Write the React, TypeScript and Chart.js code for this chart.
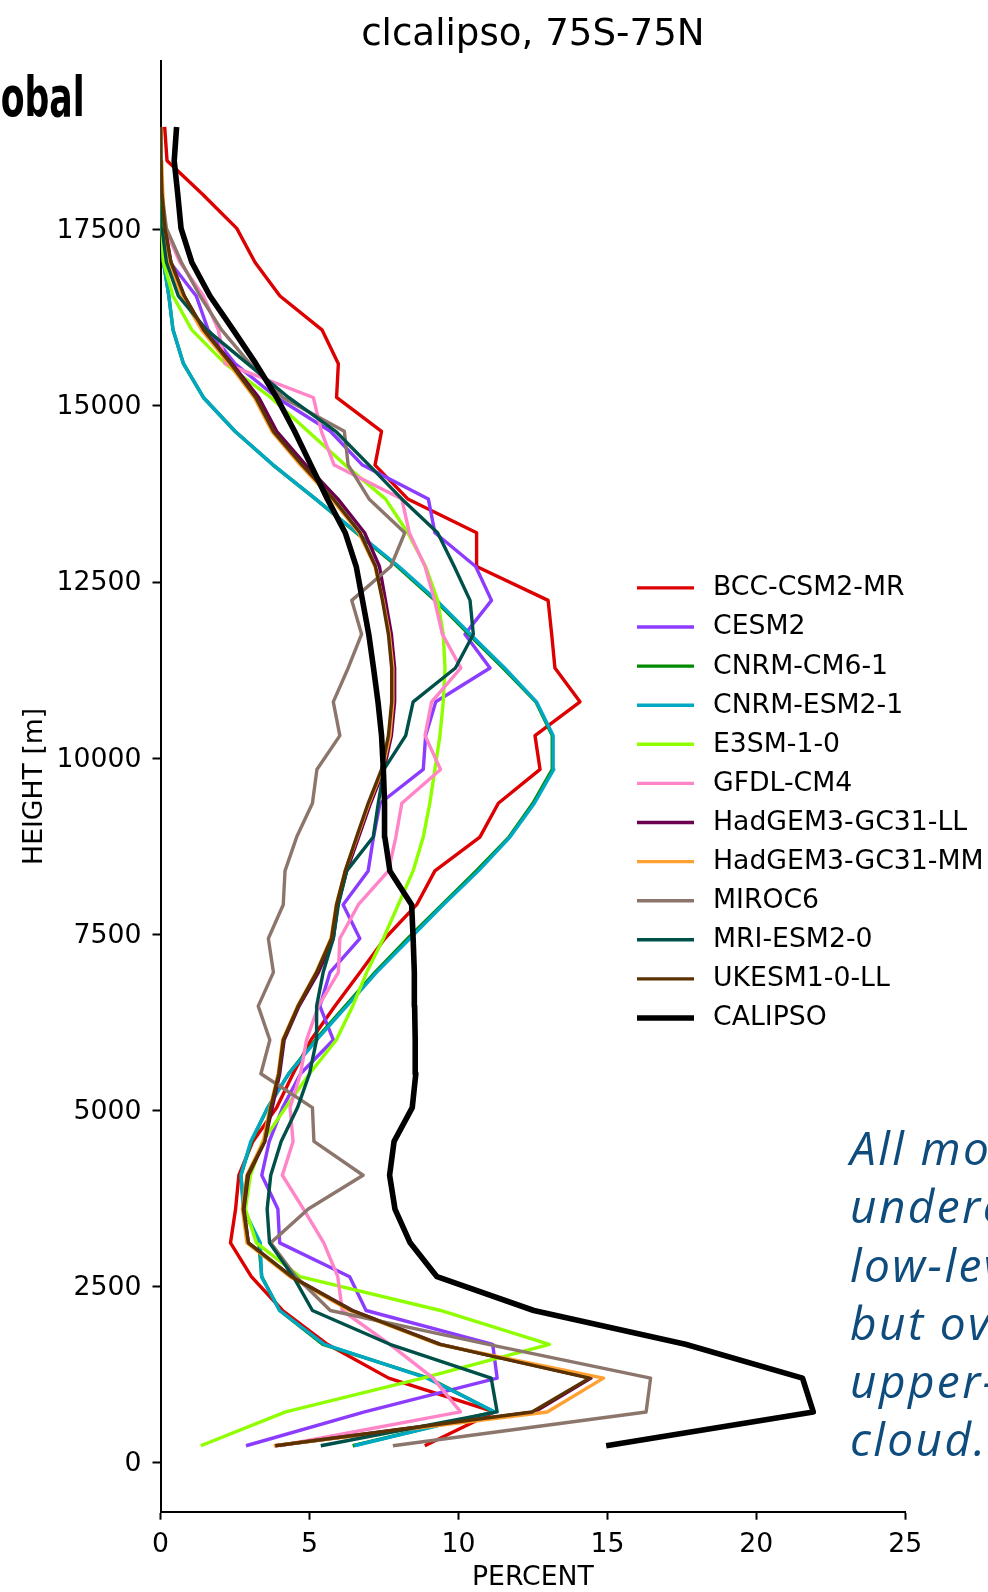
import React, { useEffect, useRef } from "react";
import { Chart, registerables } from "chart.js";

Chart.register(...registerables);

// ---------- data ----------
const heights = [
  240, 720, 1200, 1680, 2160, 2640, 3120, 3600, 4080, 4560, 5040, 5520, 6000, 6480, 6960, 7440, 7920, 8400,
  8880, 9360, 9840, 10320, 10800, 11280, 11760, 12240, 12720, 13200, 13680, 14160, 14640, 15120, 15600, 16080,
  16560, 17040, 17520, 18000, 18480, 18960,
];

const bccCsm2Mr = [
  8.87, 11.2, 7.66, 5.6, 4.1, 3.05, 2.35, 2.52, 2.63, 3.1, 3.9, 4.45, 5.05, 5.85, 6.7, 7.53, 8.6, 9.21, 10.72,
  11.34, 12.74, 12.57, 14.08, 13.24, 13.13, 13.01, 10.61, 10.61, 8.3, 7.2, 7.42, 5.91, 5.97, 5.42, 4.01, 3.17,
  2.56, 1.42, 0.22, 0.14,
];
const cesm2 = [
  2.87, 6.85, 11.3, 11.15, 6.9, 6.35, 4.0, 3.94, 3.4, 3.65, 4.1, 4.7, 5.8, 5.35, 5.69, 6.69, 6.13, 6.97, 7.15,
  7.37, 8.82, 8.9, 9.24, 11.06, 10.22, 11.11, 10.58, 9.21, 8.99, 6.78, 5.7, 3.9, 2.5, 1.6, 1.2, 0.32, 0.1, 0.05,
  0.02, 0.01,
];
const cnrmCm61 = [
  6.45, 11.2, 9.0, 5.45, 4.0, 3.4, 3.3, 2.8, 2.7, 3.05, 3.6, 4.3, 5.2, 6.2, 7.2, 8.3, 9.45, 10.6, 11.7, 12.5,
  13.15, 13.15, 12.6, 11.5, 10.35, 9.22, 7.95, 6.57, 5.2, 3.78, 2.5, 1.44, 0.77, 0.42, 0.28, 0.1, 0.05, 0.02,
  0.01, 0.0,
];
const cnrmEsm21 = [
  6.5, 11.23, 8.95, 5.5, 4.0, 3.39, 3.35, 2.78, 2.7, 3.03, 3.6, 4.3, 5.24, 6.25, 7.25, 8.37, 9.49, 10.67, 11.73,
  12.55, 13.2, 13.18, 12.62, 11.55, 10.4, 9.27, 8.0, 6.6, 5.2, 3.79, 2.5, 1.44, 0.77, 0.42, 0.28, 0.1, 0.05,
  0.02, 0.01, 0.0,
];
const e3sm10 = [
  1.35, 4.2, 8.8, 13.05, 9.4, 4.68, 3.22, 2.85, 3.02, 3.43, 4.2, 5.0, 5.9, 6.45, 6.92, 7.48, 7.98, 8.48, 8.82,
  9.04, 9.21, 9.38, 9.49, 9.55, 9.49, 9.3, 8.9, 8.3, 7.55, 6.2, 4.95, 3.7, 2.17, 1.05, 0.42, 0.1, 0.04, 0.02,
  0.01, 0.0,
];
const gfdlCm4 = [
  4.0, 10.07, 9.15, 7.7, 6.1, 5.95, 5.48, 4.8, 4.09, 4.45, 4.35, 4.7, 4.9, 5.3, 5.97, 6.02, 6.64, 7.65, 7.9, 8.1,
  9.4, 8.88, 9.1, 10.08, 9.46, 9.2, 8.88, 8.35, 8.1, 5.83, 5.4, 5.13, 2.17, 1.94, 1.44, 0.65, 0.15, 0.05, 0.02,
  0.0,
];
const hadgem3Ll = [
  3.85, 12.55, 14.45, 9.4, 6.45, 4.4, 2.95, 2.8, 2.95, 3.5, 3.75, 4.0, 4.15, 4.65, 5.3, 5.8, 5.95, 6.25, 6.65,
  7.05, 7.5, 7.75, 7.86, 7.86, 7.75, 7.55, 7.35, 6.85, 5.95, 4.88, 3.9, 3.3, 2.4, 1.45, 0.8, 0.35, 0.15, 0.05,
  0.01, 0.0,
];
const hadgem3Mm = [
  3.8, 12.98, 14.87, 9.33, 6.35, 4.35, 2.9, 2.75, 2.9, 3.45, 3.68, 3.95, 4.1, 4.6, 5.22, 5.72, 5.9, 6.2, 6.6, 7.0,
  7.45, 7.7, 7.8, 7.8, 7.68, 7.47, 7.2, 6.66, 5.75, 4.7, 3.74, 3.15, 2.3, 1.38, 0.72, 0.3, 0.15, 0.08, 0.04,
  0.02,
];
const miroc6 = [
  7.8, 16.3, 16.45, 11.0, 5.7, 4.55, 3.7, 4.96, 6.8, 5.15, 5.1, 3.37, 3.67, 3.28, 3.79, 3.62, 4.12, 4.18, 4.57,
  5.1, 5.25, 6.02, 5.8, 6.3, 6.75, 6.42, 7.73, 8.2, 7.0, 6.3, 6.17, 4.1, 3.0, 2.05, 1.33, 0.7, 0.2, 0.05, 0.02,
  0.0,
];
const mriEsm20 = [
  5.38, 11.3, 11.1, 7.7, 5.1, 4.46, 3.66, 3.58, 3.7, 4.05, 4.6, 5.0, 5.24, 5.24, 5.46, 5.8, 5.97, 6.25, 7.14,
  7.31, 7.5, 8.23, 8.48, 9.9, 10.5, 10.39, 9.86, 9.3, 8.1, 7.0, 5.88, 4.3, 2.92, 1.55, 0.6, 0.2, 0.05, 0.02, 0.01,
  0.0,
];
const ukesm10Ll = [
  3.85, 12.47, 14.4, 9.38, 6.42, 4.4, 2.95, 2.78, 2.92, 3.5, 3.7, 3.97, 4.12, 4.62, 5.24, 5.74, 5.91, 6.2, 6.58,
  6.97, 7.42, 7.65, 7.76, 7.76, 7.65, 7.45, 7.22, 6.7, 5.8, 4.76, 3.79, 3.2, 2.36, 1.45, 0.8, 0.35, 0.15, 0.05,
  0.01, 0.0,
];
const calipso = [
  14.96, 21.91, 21.55, 17.62, 12.53, 9.28, 8.38, 7.87, 7.69, 7.84, 8.45, 8.57, 8.55, 8.53, 8.52, 8.48, 8.43, 7.7,
  7.53, 7.52, 7.48, 7.42, 7.3, 7.15, 6.99, 6.78, 6.57, 6.2, 5.6, 5.05, 4.5, 3.9, 3.2, 2.44, 1.66, 1.05, 0.69,
  0.58, 0.46, 0.54,
];

const seriesNames = [
  "BCC-CSM2-MR",
  "CESM2",
  "CNRM-CM6-1",
  "CNRM-ESM2-1",
  "E3SM-1-0",
  "GFDL-CM4",
  "HadGEM3-GC31-LL",
  "HadGEM3-GC31-MM",
  "MIROC6",
  "MRI-ESM2-0",
  "UKESM1-0-LL",
  "CALIPSO",
];
const seriesValues = [
  bccCsm2Mr, cesm2, cnrmCm61, cnrmEsm21, e3sm10, gfdlCm4, hadgem3Ll, hadgem3Mm, miroc6, mriEsm20, ukesm10Ll, calipso,
];

const xTickValues = [0, 5, 10, 15, 20, 25];
const yTickValues = [0, 2500, 5000, 7500, 10000, 12500, 15000, 17500];

const chartTitle = "clcalipso, 75S-75N";
const xAxisTitle = "PERCENT";
const yAxisTitle = "HEIGHT [m]";
const sideHeading = "Global";
const noteLines = ["All models", "underestimate", "low-level cloud", "but overestimate", "upper-level", "cloud."];

// ---------- styles ----------
const seriesColors = [
  "#dc0000",
  "#8c3cff",
  "#008a00",
  "#00a8c4",
  "#8fff00",
  "#ff84c8",
  "#6c0050",
  "#ffa032",
  "#8c766c",
  "#00504a",
  "#5a3200",
  "#000000",
];
const modelLineWidth = 3.4;
const obsLineWidth = 5.6;
const FONT = '"DejaVu Sans", sans-serif';
const TEXT_SIZE = 26.7;

const titlePlugin = {
  id: "figureTitle",
  afterDraw(chart: any) {
    const { ctx, chartArea } = chart;
    ctx.save();
    ctx.font = `37.2px ${FONT}`;
    ctx.fillStyle = "#000";
    ctx.textAlign = "center";
    ctx.textBaseline = "alphabetic";
    ctx.fillText(chartTitle, (chartArea.left + chartArea.right) / 2, 44.8);
    ctx.restore();
  },
};

const insideLegendPlugin = {
  id: "insideLegend",
  afterDraw(chart: any) {
    const { ctx } = chart;
    ctx.save();
    ctx.font = `${TEXT_SIZE}px ${FONT}`;
    ctx.textBaseline = "middle";
    ctx.textAlign = "left";
    seriesNames.forEach((name, i) => {
      const ds = chart.data.datasets[i];
      const y = 587.9 + i * 39.1;
      ctx.strokeStyle = ds.borderColor;
      ctx.lineWidth = ds.borderWidth;
      ctx.lineCap = "butt";
      ctx.beginPath();
      ctx.moveTo(637, y);
      ctx.lineTo(694, y);
      ctx.stroke();
      ctx.fillStyle = "#000";
      ctx.fillText(name, 713, y + 0.5);
    });
    ctx.restore();
  },
};

export default function App() {
  const canvasRef = useRef<HTMLCanvasElement | null>(null);

  useEffect(() => {
    if (!canvasRef.current) return;
    const n = seriesNames.length;
    const datasets = seriesNames.map((name, i) => ({
      label: name,
      data: heights.map((h, k) => ({ x: seriesValues[i][k], y: h })),
      borderColor: seriesColors[i],
      backgroundColor: seriesColors[i],
      borderWidth: i === n - 1 ? obsLineWidth : modelLineWidth,
      showLine: true,
      fill: false,
      tension: 0,
      pointRadius: 0,
      pointHoverRadius: 0,
      borderJoinStyle: "round" as const,
      borderCapStyle: "butt" as const,
      order: n - i,
    }));

    const tickFont = { family: FONT, size: TEXT_SIZE, lineHeight: 1.2 };
    const plainLabel = (v: any) => String(v);

    const chart = new Chart(canvasRef.current, {
      type: "scatter",
      data: { datasets },
      options: {
        responsive: false,
        animation: false,
        devicePixelRatio: 1,
        events: [],
        layout: { padding: { top: 61, right: 82.7, bottom: 0, left: 0 } },
        plugins: {
          legend: { display: false },
          title: { display: false },
          tooltip: { enabled: false },
        },
        scales: {
          x: {
            type: "linear",
            position: "bottom",
            min: 0,
            max: 25,
            afterBuildTicks: (scale: any) => {
              scale.ticks = xTickValues.map((v) => ({ value: v }));
            },
            afterFit: (scale: any) => {
              scale.height = 80.3;
            },
            grid: {
              display: true,
              drawOnChartArea: false,
              drawTicks: true,
              tickLength: 8,
              tickWidth: 2,
              tickColor: "#000",
            },
            border: { display: true, color: "#000", width: 2 },
            ticks: {
              color: "#000",
              font: tickFont,
              padding: 9,
              maxRotation: 0,
              autoSkip: false,
              callback: plainLabel,
            },
            title: {
              display: true,
              text: xAxisTitle,
              color: "#000",
              font: { family: FONT, size: TEXT_SIZE, lineHeight: 1 },
              padding: { top: 0, bottom: 1 },
            },
          },
          y: {
            type: "linear",
            position: "left",
            min: -696,
            max: 19896,
            afterBuildTicks: (scale: any) => {
              scale.ticks = yTickValues.map((v) => ({ value: v }));
            },
            afterFit: (scale: any) => {
              scale.width = 160.5;
            },
            grid: {
              display: true,
              drawOnChartArea: false,
              drawTicks: true,
              tickLength: 8,
              tickWidth: 2,
              tickColor: "#000",
            },
            border: { display: true, color: "#000", width: 2 },
            ticks: {
              color: "#000",
              font: tickFont,
              padding: 11,
              labelOffset: 1.5,
              autoSkip: false,
              callback: plainLabel,
            },
            title: {
              display: true,
              text: yAxisTitle,
              color: "#000",
              font: { family: FONT, size: TEXT_SIZE, lineHeight: 1 },
              padding: { top: 22, bottom: 0 },
            },
          },
        },
      },
      plugins: [titlePlugin, insideLegendPlugin],
    } as any);

    return () => chart.destroy();
  }, []);

  return (
    <div
      style={{
        position: "absolute",
        left: 0,
        top: 0,
        width: 988,
        height: 1592,
        overflow: "hidden",
        background: "#fff",
      }}
    >
      <canvas
        ref={canvasRef}
        width={988}
        height={1592}
        style={{ position: "absolute", left: 0, top: 0, width: 988, height: 1592 }}
      />
      <div
        style={{
          position: "absolute",
          right: 903,
          top: 69.3,
          fontFamily: FONT,
          fontWeight: "bold",
          fontSize: 56,
          lineHeight: "56px",
          whiteSpace: "nowrap",
          transform: "scaleX(0.62)",
          transformOrigin: "right center",
          color: "#000",
        }}
      >
        {sideHeading}
      </div>
      <div
        style={{
          position: "absolute",
          left: 850,
          top: 1118,
          fontFamily: '"Open Sans", "Noto Sans", sans-serif',
          fontStyle: "italic",
          fontSize: 46,
          lineHeight: "58.3px",
          letterSpacing: "2.4px",
          whiteSpace: "nowrap",
          color: "#0f4c7e",
        }}
      >
        {noteLines.map((line, i) => (
          <div key={i}>{line}</div>
        ))}
      </div>
    </div>
  );
}
